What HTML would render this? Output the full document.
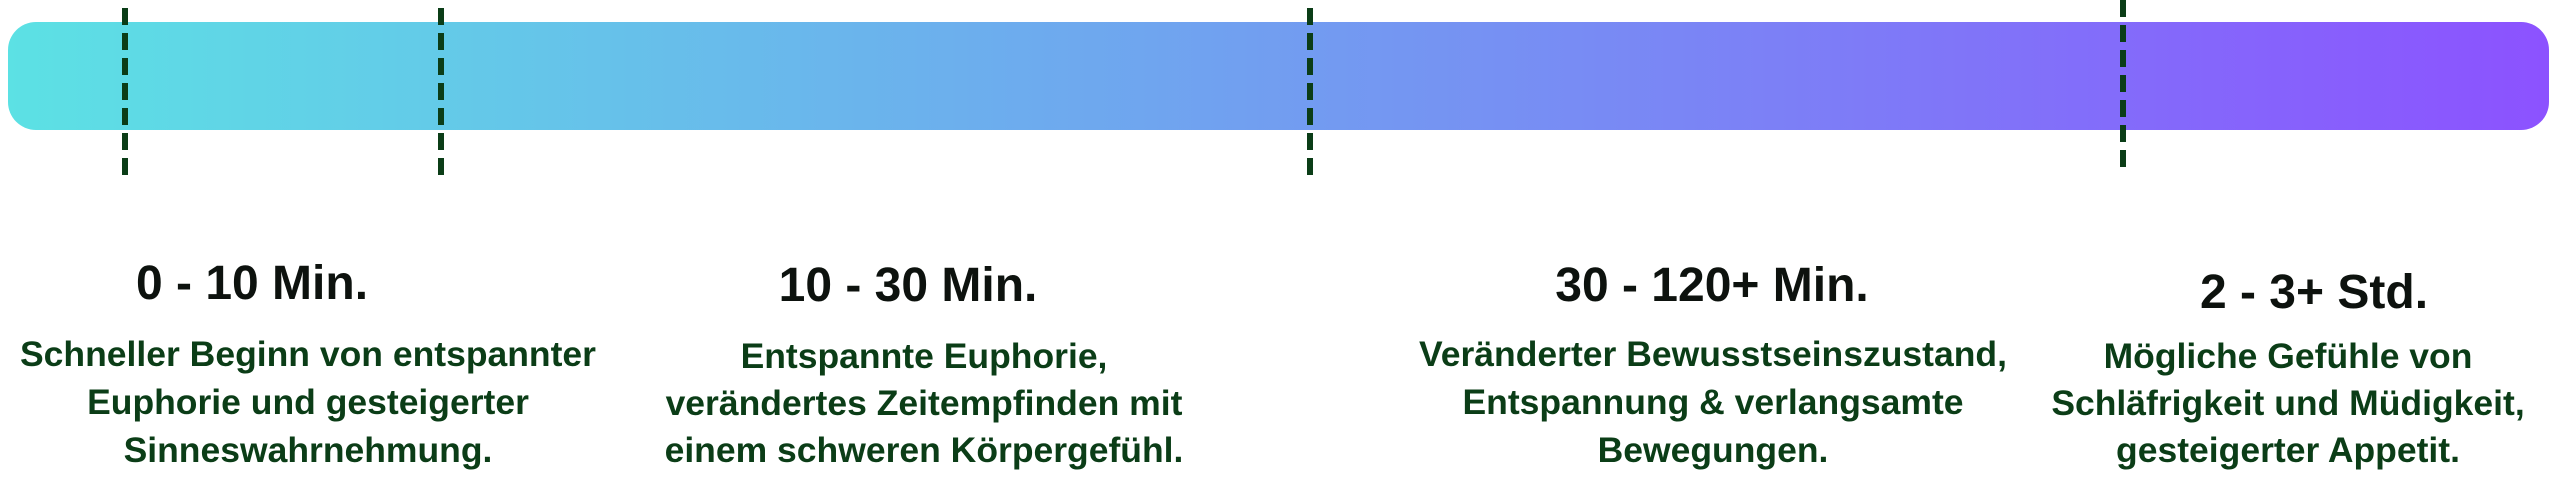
<!DOCTYPE html>
<html><head><meta charset="utf-8"><style>
html,body{margin:0;padding:0;background:#fff;width:2560px;height:482px;overflow:hidden}
svg{display:block}
.h{font-family:"Liberation Sans",sans-serif;font-weight:bold;font-size:48px;fill:#0d120e}
.b{font-family:"Liberation Sans",sans-serif;font-weight:bold;font-size:35.5px;fill:#0b3d17}
</style></head><body>
<svg width="2560" height="482" viewBox="0 0 2560 482" xmlns="http://www.w3.org/2000/svg">
<defs><linearGradient id="g" x1="0" x2="1" y1="0" y2="0">
<stop offset="0" stop-color="#5ce1e4"/><stop offset="0.45" stop-color="#6fa5ef"/><stop offset="1" stop-color="#8c52ff"/></linearGradient></defs>
<rect x="8" y="22" width="2541" height="108" rx="28" ry="28" fill="url(#g)"/>
<g stroke="#0b3d17" stroke-width="6" stroke-dasharray="17 8">
<line x1="125" y1="8" x2="125" y2="176"/>
<line x1="441" y1="8" x2="441" y2="176"/>
<line x1="1310" y1="8" x2="1310" y2="176"/>
<line x1="2123" y1="0" x2="2123" y2="168"/>
</g>
<g text-anchor="middle">
<text class="h" x="252" y="299">0 - 10 Min.</text>
<text class="h" x="908" y="301">10 - 30 Min.</text>
<text class="h" x="1712" y="301">30 - 120+ Min.</text>
<text class="h" x="2314" y="308">2 - 3+ Std.</text>
<text class="b" x="308" y="366">Schneller Beginn von entspannter</text>
<text class="b" x="308" y="414">Euphorie und gesteigerter</text>
<text class="b" x="308" y="462">Sinneswahrnehmung.</text>
<text class="b" x="924" y="368">Entspannte Euphorie,</text>
<text class="b" x="924" y="415">verändertes Zeitempfinden mit</text>
<text class="b" x="924" y="462">einem schweren Körpergefühl.</text>
<text class="b" x="1713" y="366">Veränderter Bewusstseinszustand,</text>
<text class="b" x="1713" y="414">Entspannung &amp; verlangsamte</text>
<text class="b" x="1713" y="462">Bewegungen.</text>
<text class="b" x="2288" y="368">Mögliche Gefühle von</text>
<text class="b" x="2288" y="415">Schläfrigkeit und Müdigkeit,</text>
<text class="b" x="2288" y="462">gesteigerter Appetit.</text>
</g>
</svg>
</body></html>
